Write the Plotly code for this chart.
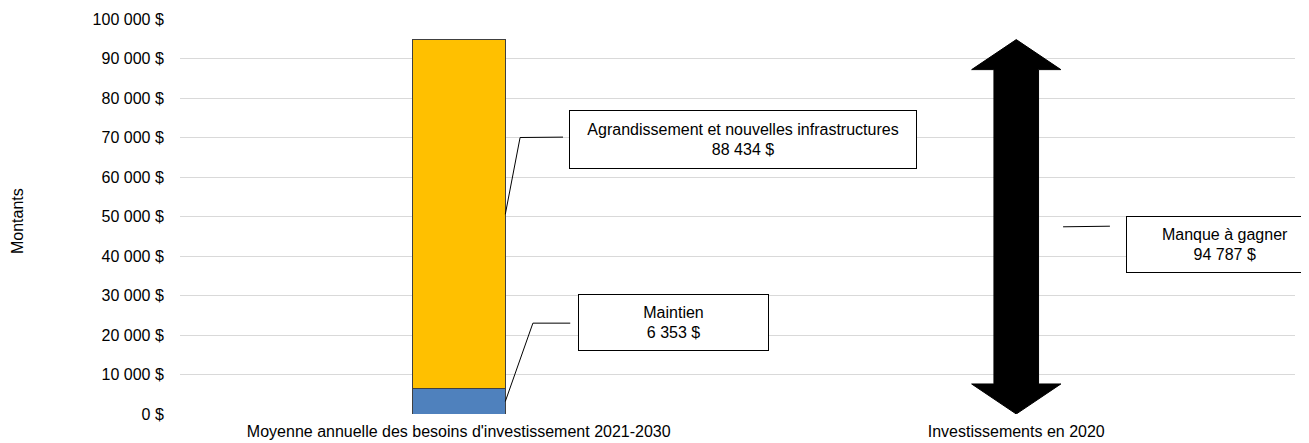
import plotly.graph_objects as go

# Data (thousands of $)
categories = ["Moyenne annuelle des besoins d'investissement 2021-2030", "Investissements en 2020"]
maintien = 6353
agrandissement = 88434
investissements_2020 = 0
besoins_total = maintien + agrandissement
manque = besoins_total - investissements_2020

y_tickvals = list(range(0, 100001, 10000))
y_ticktext = [f"{v:,}".replace(",", " ") + " $" for v in y_tickvals]

FONT = "Liberation Sans, Arial, sans-serif"
BAR_WIDTH = 0.167
YELLOW = "#FFC000"
BLUE = "#4F81BD"

fig = go.Figure()

# Stacked bar: maintien + agrandissement
fig.add_trace(go.Bar(
    x=[0], y=[maintien], width=BAR_WIDTH,
    marker=dict(color=BLUE, line=dict(color="#404040", width=1)),
    hoverinfo="skip",
))
fig.add_trace(go.Bar(
    x=[0], y=[agrandissement], width=BAR_WIDTH,
    marker=dict(color=YELLOW, line=dict(color="#404040", width=1)),
    hoverinfo="skip",
))

# Double arrow for the shortfall, built from the values
shaft = 0.04
head = 0.08
head_len = 7600
lo, hi = investissements_2020, investissements_2020 + manque
ax = [1, 1 + head, 1 + shaft, 1 + shaft, 1 + head, 1, 1 - head, 1 - shaft, 1 - shaft, 1 - head, 1]
ay = [hi, hi - head_len, hi - head_len, lo + head_len, lo + head_len, lo,
      lo + head_len, lo + head_len, hi - head_len, hi - head_len, hi]
fig.add_trace(go.Scatter(
    x=ax, y=ay, mode="lines", fill="toself", fillcolor="black",
    line=dict(color="black", width=1), hoverinfo="skip",
))

# Leader lines
half = BAR_WIDTH / 2
leaders = [
    ([half, 0.110, 0.187], [maintien + agrandissement / 2, 70000, 70100]),
    ([half, 0.133, 0.200], [maintien / 2, 23000, 23000]),
    ([1.084, 1.168], [manque / 2, manque / 2 + 150]),
]
for lx, ly in leaders:
    fig.add_trace(go.Scatter(
        x=lx, y=ly, mode="lines", line=dict(color="black", width=1), hoverinfo="skip",
    ))

# Label boxes
boxes = [
    (0.5045, 0.696, f"Agrandissement et nouvelles infrastructures<br>{agrandissement:,} $".replace(",", " "), 346, 57),
    (0.443, 0.2304, f"Maintien<br>{maintien:,} $".replace(",", " "), 189, 55),
    (0.937, 0.430, f"Manque à gagner<br>{manque:,} $".replace(",", " "), 196, 55),
]
for bx, by, text, w, h in boxes:
    fig.add_annotation(
        x=bx, y=by, xref="paper", yref="paper", text=text, showarrow=False,
        width=w, height=h, bordercolor="black", borderwidth=1, borderpad=0,
        bgcolor="white", font=dict(size=16, color="black", family=FONT),
        xanchor="center", yanchor="middle",
    )

# Y title
fig.add_annotation(
    x=(7 - 180) / 1115, y=0.5 - 5 / 395, xref="paper", yref="paper", text="Montants",
    textangle=-90, showarrow=False, font=dict(size=16, color="black", family=FONT),
)

fig.update_layout(
    width=1301, height=435,
    margin=dict(l=172, r=14, t=11, b=29),
    barmode="stack",
    showlegend=False,
    plot_bgcolor="white", paper_bgcolor="white",
    font=dict(family=FONT, size=16, color="black"),
    xaxis=dict(
        range=[-0.5, 1.5], tickvals=[0, 1], ticktext=categories,
        showgrid=False, zeroline=False, showline=False, automargin=False,
        ticks="outside", ticklen=3, tickcolor="rgba(0,0,0,0)",
        tickfont=dict(size=16),
    ),
    yaxis=dict(
        range=[0, 100000], tickvals=y_tickvals, ticktext=y_ticktext,
        showgrid=True, gridcolor="#d9d9d9", gridwidth=1, zeroline=False,
        automargin=False,
        ticks="outside", ticklen=12, tickcolor="rgba(0,0,0,0)",
        tickfont=dict(size=16),
    ),
)

fig.write_html("out.html")
